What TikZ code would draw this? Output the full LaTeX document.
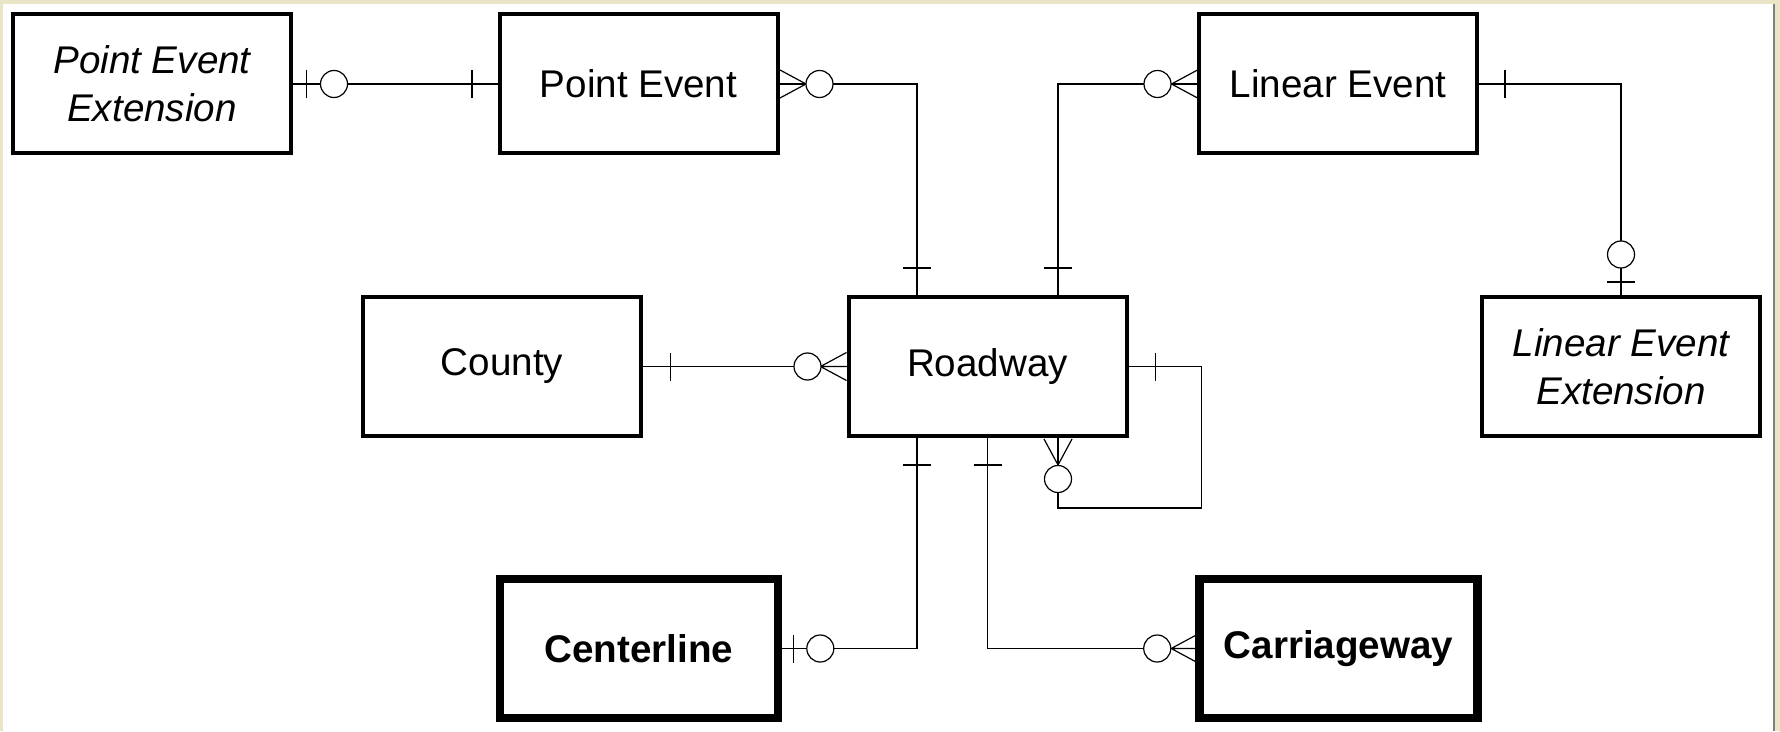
\documentclass[tikz,border=0pt]{standalone}
\usepackage{fontspec}
\setmainfont{Liberation Sans}
\usetikzlibrary{calc}
\definecolor{paper}{RGB}{233,229,198}
\newcommand{\erfont}{\fontsize{19.3}{23.8}\selectfont}
\tikzset{
  entity/.style={draw,line width=2pt,minimum width=139pt,minimum height=69.5pt,inner sep=0pt,align=center,font=\erfont},
  extension/.style={entity,font=\erfont\itshape},
  strong/.style={entity,line width=4.3pt,font=\erfont\bfseries},
  rel/.style={line width=0.6pt},
  onebar/.pic={\draw[rel] (0,-14) -- (0,14);},
  nought/.pic={\draw[rel,fill=white] (0,0) circle[radius=13.5];},
  crowfoot/.pic={\draw[rel] (0,0) -- (-26,-14) (0,0) -- (-26,0) (0,0) -- (-26,14);}
}
\begin{document}
\begin{tikzpicture}[x=0.5pt,y=-0.5pt]
\fill[paper] (0,0) rectangle (1780,731);
\fill[white] (3,4) rectangle (1773,731);
\draw[gray,line width=1pt] (1774,4) -- (1774,731);
% entities
\node[extension] (PEE) at (152,84) {Point Event\\Extension};
\node[entity] (PE) at (638.5,84) {Point Event};
\node[entity] (LE) at (1338,84) {Linear Event};
\node[entity] (County) at (502,366.5) {County};
\node[entity] (Roadway) at (987.5,366.5) {Roadway};
\node[extension] (LEE) at (1621,366.5) {Linear Event\\Extension};
\node[strong] (Centerline) at (639,648.5) {Centerline};
\node[strong] (Carriageway) at (1338.5,648.5) {Carriageway};
\coordinate (rwN1) at ($(Roadway.north west)!0.25!(Roadway.north east)$);
\coordinate (rwN2) at ($(Roadway.north west)!0.75!(Roadway.north east)$);
\coordinate (rwS1) at ($(Roadway.south west)!0.25!(Roadway.south east)$);
\coordinate (rwS3) at ($(Roadway.south west)!0.75!(Roadway.south east)$);
% relationships
\draw[rel] (PEE.east) -- (PE.west);
\draw[rel] (PE.east) -| (rwN1);
\draw[rel] (rwN2) |- (LE.west);
\draw[rel] (LE.east) -| (LEE.north);
\draw[rel] (County.east) -- (Roadway.west);
\draw[rel] (Roadway.east) -- ++(73,0) |- ($(rwS3)+(0,70)$) -- (rwS3);
\draw[rel] (rwS1) |- (Centerline.east);
\draw[rel] (Roadway.south) |- (Carriageway.west);
% cardinality marks
\pic at ($(PEE.east)+(13.5,0)$) {onebar};
\pic at ($(PEE.east)+(41,0)$) {nought};
\pic at ($(PE.west)+(-25.5,0)$) {onebar};
\pic at ($(PE.east)+(26.5,0)$) {crowfoot};
\pic at ($(PE.east)+(40,0)$) {nought};
\pic[rotate=90] at ($(rwN1)+(0,-27)$) {onebar};
\pic[rotate=180] at ($(LE.west)+(-25.5,0)$) {crowfoot};
\pic at ($(LE.west)+(-39.5,0)$) {nought};
\pic[rotate=90] at ($(rwN2)+(0,-27)$) {onebar};
\pic at ($(LE.east)+(26,0)$) {onebar};
\pic at ($(LEE.north)+(0,-40.5)$) {nought};
\pic[rotate=90] at ($(LEE.north)+(0,-13)$) {onebar};
\pic at ($(County.east)+(27.5,0)$) {onebar};
\pic[rotate=180] at ($(Roadway.west)+(-26,0)$) {crowfoot};
\pic at ($(Roadway.west)+(-39,0)$) {nought};
\pic at ($(Roadway.east)+(27,0)$) {onebar};
\pic[rotate=-90] at ($(rwS3)+(0,27)$) {crowfoot};
\pic at ($(rwS3)+(0,41)$) {nought};
\pic[rotate=90] at ($(rwS1)+(0,27)$) {onebar};
\pic at ($(Centerline.east)+(11,0)$) {onebar};
\pic at ($(Centerline.east)+(38,0)$) {nought};
\pic[rotate=90] at ($(Roadway.south)+(0,27)$) {onebar};
\pic[rotate=180] at ($(Carriageway.west)+(-24,0)$) {crowfoot};
\pic at ($(Carriageway.west)+(-38,0)$) {nought};
\end{tikzpicture}
\end{document}
